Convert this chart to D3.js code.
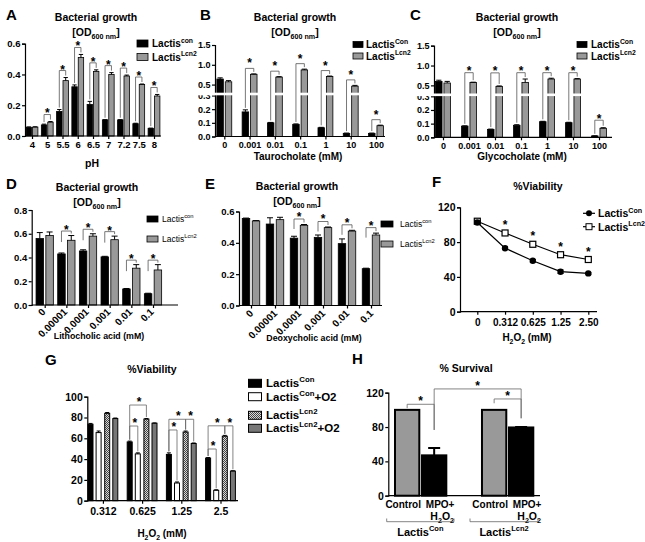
<!DOCTYPE html>
<html><head><meta charset="utf-8">
<script src="https://cdn.jsdelivr.net/npm/d3@7"></script>
<style>
body{margin:0;background:#fff}
svg text{font-family:'Liberation Sans',Arial,Helvetica,sans-serif}
</style>
</head><body>
<svg id="c" width="645" height="542"></svg>
<script>
// ================= DATA =================
const phCats = ["4","5","5.5","6","6.5","7","7.2","7.5","8"];
const phCon    = [0.057,0.072,0.16,0.32,0.205,0.105,0.105,0.08,0.05];
const phConErr = [0.002,0.005,0.012,0.012,0.02,0.001,0.001,0.003,0.001];
const phLcn    = [0.058,0.09,0.36,0.51,0.42,0.40,0.39,0.335,0.26];
const phLcnErr = [0.002,0.004,0.02,0.02,0.01,0.012,0.006,0.003,0.01];
const phSig    = [0,1,1,1,1,1,1,1,1];

const bileCats = ["0","0.001","0.01","0.1","1","10","100"];
const tauCon    = [0.64,0.18,0.10,0.089,0.064,0.023,0.023];
const tauConErr = [0.03,0.015,0.003,0.003,0.003,0.002,0.002];
const tauLcn    = [0.57,0.76,0.69,0.87,0.705,0.46,0.079];
const tauLcnErr = [0.03,0.01,0.01,0.02,0.01,0.02,0.004];
const tauSig    = [0,1,1,1,1,1,1];

const glyCon    = [0.60,0.082,0.058,0.088,0.114,0.107,0.01];
const glyConErr = [0.03,0.002,0.002,0.004,0.003,0.003,0.001];
const glyLcn    = [0.56,0.575,0.475,0.575,0.66,0.66,0.066];
const glyLcnErr = [0.04,0.005,0.01,0.085,0.02,0.01,0.004];
const glySig    = [0,1,1,1,1,1,1];
const glyBracketLevel = [null,0.82,0.815,0.82,0.82,0.82,0.125];

const acidCats = ["0","0.00001","0.0001","0.001","0.01","0.1"];
const lithoCon    = [0.56,0.43,0.455,0.405,0.135,0.095];
const lithoConErr = [0.05,0.008,0.01,0.005,0.004,0.004];
const lithoLcn    = [0.585,0.545,0.58,0.55,0.31,0.295];
const lithoLcnErr = [0.03,0.04,0.02,0.03,0.03,0.045];
const lithoSig    = [0,1,1,1,1,1];

const deoxyCon    = [0.555,0.52,0.43,0.435,0.395,0.235];
const deoxyConErr = [0.003,0.04,0.012,0.015,0.03,0.003];
const deoxyLcn    = [0.54,0.548,0.512,0.497,0.475,0.45];
const deoxyLcnErr = [0.002,0.015,0.005,0.004,0.005,0.012];
const deoxySig    = [0,0,1,1,1,1];

const fCats   = ["0","0.312","0.625","1.25","2.50"];
const fCon    = [102.5,73,58.5,46,44];
const fConErr = [1.5,1.5,1.5,2,1];
const fLcn    = [104,90.5,77.5,65.5,60];
const fLcnErr = [1,1,1,1,1];
const fSig    = [0,1,1,1,1];

const gCats     = ["0.312","0.625","1.25","2.5"];
const gCon      = [73.5,56.5,44.5,41];
const gConErr   = [0.8,0.8,1.5,0.5];
const gConO2    = [65.5,45,17,10];
const gConO2Err = [1.5,1,1,0.5];
const gLcn      = [84,78.5,66,62];
const gLcnErr   = [0.8,0.5,1,0.8];
const gLcnO2    = [79,74.5,55,28.5];
const gLcnO2Err = [0.5,0.3,0.5,0.3];
// [group, seriesA, seriesB, bracket level (%)]
const gBrackets = [[1,0,1,71.8],[1,0,2,92],[2,0,1,68],[2,0,2,78.3],[2,2,3,78.3],[3,0,1,49.7],[3,0,2,72],[3,2,3,72]];

const hGroups = ["Con","Lcn2"];
const hConds  = ["Control","MPO+H2O2"];
const hCon    = [100,47];
const hConErr = [0,8.5];
const hLcn    = [100,79.5];
const hLcnErr = [0,0.5];
// [barA, barB, level, legA end, legB end] (%)
const hBrackets = [[0,1,106.5,102,76.6],[1,3,124.4,76.6,90.2],[2,3,112.7,107.7,90.2]];

// ================= HELPERS =================
const svg = d3.select("#c");
const defs = svg.append("defs");
const pat = defs.append("pattern").attr("id","hatch").attr("patternUnits","userSpaceOnUse").attr("width",2).attr("height",2);
pat.append("rect").attr("width",2).attr("height",2).attr("fill","#d8d8d8");
pat.append("rect").attr("width",1).attr("height",1).attr("fill","#444");
pat.append("rect").attr("x",1).attr("y",1).attr("width",1).attr("height",1).attr("fill","#444");

function rich(g, x, y, segs, size, o = {}) {
  const t = g.append("text").attr("x", x).attr("y", y).attr("font-size", size)
    .attr("font-weight", o.weight || "bold").attr("text-anchor", o.anchor || "start").attr("fill", "#000");
  if (o.transform) t.attr("transform", o.transform);
  let shift = 0;
  segs.forEach(s => {
    if (typeof s === "string") s = {t: s};
    const target = s.sup ? -0.42 * size : s.sub ? 0.3 * size : 0;
    const sp = t.append("tspan").text(s.t).attr("dy", target - shift);
    if (s.sup || s.sub) sp.attr("font-size", size * 0.68);
    shift = target;
  });
  return t;
}
function styleAxis(sel, size) {
  sel.attr("font-family", null).attr("font-size", null);
  sel.selectAll("text").attr("font-size", size).attr("font-weight", "bold").attr("fill", "#000");
  sel.selectAll("path,line").attr("stroke", "#000").attr("stroke-width", 1.2);
}
function star(g, x, yc, size = 12) {
  g.append("text").attr("x", x).attr("y", yc + 0.58 * size).attr("text-anchor", "middle")
    .attr("font-size", size).attr("font-weight", "bold").text("*");
}
const sup = t => ({t, sup: true});
const sub = t => ({t, sub: true});
const OD = ["[OD", sub("600 nm"), "]"];
const H2O2 = ["H", sub("2"), "O", sub("2"), " (mM)"];

function barPanel(o) {
  const g = svg.append("g");
  const x = d3.scalePoint(o.cats, o.centers);
  const y = o.y;
  const ser = [
    {v: o.con, e: o.conErr, fill: "#000", off: -o.off},
    {v: o.lcn, e: o.lcnErr, fill: "#999", off: o.off}
  ];
  ser.forEach(s => {
    g.selectAll(null).data(o.cats).join("rect")
      .attr("x", d => x(d) + s.off - o.bw / 2).attr("width", o.bw)
      .attr("y", (d, i) => y(s.v[i])).attr("height", (d, i) => y(0) - y(s.v[i]))
      .attr("fill", s.fill).attr("stroke", "#000").attr("stroke-width", 0.8);
    g.selectAll(null).data(o.cats).join("path")
      .attr("d", (d, i) => {
        const cx = x(d) + s.off, t = y(s.v[i] + s.e[i]);
        return `M${cx},${y(s.v[i])}V${t}M${cx - o.bw * 0.4},${t}H${cx + o.bw * 0.4}`;
      })
      .attr("stroke", "#000").attr("stroke-width", 1).attr("fill", "none");
  });
  // axes
  const ya = g.append("g").attr("transform", `translate(${o.x0},0)`)
    .call(d3.axisLeft(y).tickValues(o.yTicks).tickFormat(d3.format(".1f")).tickSize(3).tickPadding(1.5));
  styleAxis(ya, o.tickFs);
  g.append("line").attr("x1", o.x0).attr("x2", o.x1).attr("y1", y(0)).attr("y2", y(0))
    .attr("stroke", "#000").attr("stroke-width", 1.2);
  const xa = g.append("g").attr("transform", `translate(0,${y(0)})`)
    .call(d3.axisBottom(x).tickSize(3).tickPadding(2).tickFormat(o.rotate ? () => "" : d => d));
  xa.select(".domain").remove();
  styleAxis(xa, o.tickFs);
  if (o.rotate) {
    o.cats.forEach(c => {
      g.append("text").attr("text-anchor", "end").attr("font-size", o.rotFs).attr("font-weight", "bold")
        .attr("transform", `translate(${x(c) + o.rotDx},${y(0) + o.rotDy}) rotate(-45)`).text(c);
    });
  }
  if (o.brk) {
    g.append("rect").attr("x", o.x0 - 22).attr("y", o.brk[0]).attr("width", o.x1 - o.x0 + 22)
      .attr("height", o.brk[1] - o.brk[0]).attr("fill", "#fff");
  }
  // brackets
  o.sig.forEach((s, i) => {
    if (!s) return;
    const cx = x(o.cats[i]), lx = cx - o.off, rx = cx + o.off;
    const topC = y(o.con[i] + o.conErr[i]), topL = y(o.lcn[i] + o.lcnErr[i]);
    const yb = o.level ? y(o.level[i]) : Math.min(topC, topL) - o.gap;
    const lb = o.longLeg ? topC - 2 : yb + o.leg;
    const rb = topL - 2;
    g.append("path").attr("d", `M${lx},${lb}V${yb}H${rx}V${rb}`)
      .attr("fill", "none").attr("stroke", "#555").attr("stroke-width", 0.8);
    star(g, (lx + rx) / 2, yb - o.starUp, 12);
  });
  // titles & labels
  rich(g, o.titleX, o.titleY, ["Bacterial growth"], 10.5, {anchor: "middle"});
  rich(g, o.titleX, o.titleY + 15, OD, 10.5, {anchor: "middle"});
  rich(g, o.xlabX, o.xlabY, [o.xlab], o.xlabFs, {anchor: "middle"});
  rich(g, o.letter[1], o.letter[2], [o.letter[0]], 15);
  // legend
  const L = o.legend;
  [["#000", L.names[0]], ["#999", L.names[1]]].forEach((it, k) => {
    g.append("rect").attr("x", L.x).attr("y", L.y + k * L.dy).attr("width", L.w).attr("height", L.h)
      .attr("fill", it[0]).attr("stroke", "#000").attr("stroke-width", 0.8);
    rich(g, L.tx, L.y + k * L.dy + L.h / 2 + L.fs * 0.36, ["Lactis", sup(it[1])], L.fs, {weight: L.weight});
  });
  return g;
}

// ================= PANEL A =================
barPanel({
  cats: phCats, centers: [32, 154], y: d3.scaleLinear([0, 0.6], [136, 43.7]),
  con: phCon, conErr: phConErr, lcn: phLcn, lcnErr: phLcnErr, sig: phSig,
  off: 3.2, bw: 5.4, x0: 25, x1: 161, yTicks: [0, 0.2, 0.4, 0.6], tickFs: 9.5,
  gap: 7, longLeg: true, starUp: 4,
  titleX: 96, titleY: 21, xlab: "pH", xlabX: 92, xlabY: 167, xlabFs: 10.5,
  letter: ["A", 6, 20],
  legend: {x: 137, y: 40, dy: 13.5, w: 11, h: 7, tx: 152, fs: 10, names: ["con", "Lcn2"]}
});

// ================= PANEL B =================
barPanel({
  cats: bileCats, centers: [224.3, 376],
  y: d3.scaleLinear().domain([0, 0.3, 0.3000001, 1.5]).range([136.5, 95.5, 92.5, 45]),
  con: tauCon, conErr: tauConErr, lcn: tauLcn, lcnErr: tauLcnErr, sig: tauSig,
  off: 4.2, bw: 6.5, x0: 215, x1: 385, yTicks: [0, 0.1, 0.2, 0.3, 0.5, 1.0, 1.5], tickFs: 9,
  gap: 5.5, longLeg: true, starUp: 8, brk: [92.7, 95.3],
  titleX: 295, titleY: 21, xlab: "Taurocholate (mM)", xlabX: 298, xlabY: 160, xlabFs: 10,
  letter: ["B", 200, 20],
  legend: {x: 353, y: 41.5, dy: 11.5, w: 10, h: 6, tx: 366, fs: 10, names: ["Con", "Lcn2"]}
});

// ================= PANEL C =================
barPanel({
  cats: bileCats, centers: [443, 599],
  y: d3.scaleLinear().domain([0, 0.3, 0.3000001, 1.5]).range([137.3, 96.3, 93.3, 45.7]),
  con: glyCon, conErr: glyConErr, lcn: glyLcn, lcnErr: glyLcnErr, sig: glySig, level: glyBracketLevel,
  off: 4.2, bw: 6.5, x0: 434, x1: 612, yTicks: [0, 0.1, 0.2, 0.3, 0.5, 1.0, 1.5], tickFs: 9,
  longLeg: true, starUp: 4.5, brk: [93.5, 96.1],
  titleX: 517, titleY: 21, xlab: "Glycocholate (mM)", xlabX: 522, xlabY: 160, xlabFs: 10,
  letter: ["C", 410, 20],
  legend: {x: 577, y: 41.5, dy: 11.5, w: 10, h: 6, tx: 591, fs: 10, names: ["Con", "Lcn2"]}
});

// ================= PANEL D =================
barPanel({
  cats: acidCats, centers: [44.7, 153], y: d3.scaleLinear([0, 0.8], [305, 210]),
  con: lithoCon, conErr: lithoConErr, lcn: lithoLcn, lcnErr: lithoLcnErr, sig: lithoSig,
  off: 4.9, bw: 7.5, x0: 31.7, x1: 178, yTicks: [0, 0.2, 0.4, 0.6, 0.8], tickFs: 9.5,
  gap: 4.5, longLeg: false, leg: 11, starUp: 4, rotate: true, rotFs: 10, rotDx: 1.5, rotDy: 7.5,
  titleX: 97, titleY: 191, xlab: "Lithocholic acid (mM)", xlabX: 99, xlabY: 338.5, xlabFs: 8.8,
  letter: ["D", 6, 189],
  legend: {x: 147, y: 216, dy: 20, w: 11, h: 6, tx: 162, fs: 8.5, weight: "normal", names: ["con", "Lcn2"]}
});

// ================= PANEL E =================
barPanel({
  cats: acidCats, centers: [251, 371], y: d3.scaleLinear([0, 0.6], [305.5, 211.5]),
  con: deoxyCon, conErr: deoxyConErr, lcn: deoxyLcn, lcnErr: deoxyLcnErr, sig: deoxySig,
  off: 5, bw: 7.5, x0: 239, x1: 382, yTicks: [0, 0.2, 0.4, 0.6], tickFs: 9.5,
  gap: 5.5, longLeg: false, leg: 10, starUp: 5, rotate: true, rotFs: 10, rotDx: 3, rotDy: 8.5,
  titleX: 297, titleY: 190, xlab: "Deoxycholic acid (mM)", xlabX: 314, xlabY: 341, xlabFs: 8.8,
  letter: ["E", 205, 189],
  legend: {x: 381, y: 221, dy: 20, w: 12, h: 6, tx: 400, fs: 8.5, weight: "normal", names: ["con", "Lcn2"]}
});

// ================= PANEL F =================
(function () {
  const g = svg.append("g");
  const x = d3.scalePoint(fCats, [477.3, 588.3]);
  const y = d3.scaleLinear([0, 120], [311.7, 207.3]);
  const ya = g.append("g").attr("transform", "translate(460,0)")
    .call(d3.axisLeft(y).tickValues([0, 40, 80, 120]).tickSize(3).tickPadding(1.5));
  styleAxis(ya, 10.5);
  g.append("line").attr("x1", 460).attr("x2", 597).attr("y1", y(0)).attr("y2", y(0)).attr("stroke", "#000").attr("stroke-width", 1.2);
  const xa = g.append("g").attr("transform", `translate(0,${y(0)})`).call(d3.axisBottom(x).tickSize(3).tickPadding(4));
  xa.select(".domain").remove();
  styleAxis(xa, 10);
  const line = d3.line().x((d, i) => x(fCats[i])).y(d => y(d));
  [[fLcn, fLcnErr, "sq"], [fCon, fConErr, "ci"]].forEach(([v, e, m]) => {
    g.append("path").attr("d", line(v)).attr("fill", "none").attr("stroke", "#000").attr("stroke-width", 1.2);
    v.forEach((d, i) => {
      const cx = x(fCats[i]);
      g.append("path").attr("d", `M${cx},${y(d - e[i])}V${y(d + e[i])}M${cx - 3},${y(d + e[i])}H${cx + 3}M${cx - 3},${y(d - e[i])}H${cx + 3}`)
        .attr("stroke", "#000").attr("stroke-width", 1);
      if (m === "ci") g.append("circle").attr("cx", cx).attr("cy", y(d)).attr("r", 3.2).attr("fill", "#000");
      else g.append("rect").attr("x", cx - 3).attr("y", y(d) - 3).attr("width", 6).attr("height", 6)
        .attr("fill", "#fff").attr("stroke", "#000").attr("stroke-width", 1.2);
    });
  });
  fSig.forEach((s, i) => { if (s) star(g, x(fCats[i]), y(fLcn[i] + fLcnErr[i]) - 10, 12); });
  rich(g, 538, 190, ["%Viability"], 10.5, {anchor: "middle"});
  rich(g, 527, 341, H2O2, 10, {anchor: "middle"});
  rich(g, 432, 187, ["F"], 15);
  // legend
  [[213.3, "ci", "Con"], [226.7, "sq", "Lcn2"]].forEach(([ly, m, n]) => {
    g.append("line").attr("x1", 583).attr("x2", 595).attr("y1", ly).attr("y2", ly).attr("stroke", "#000").attr("stroke-width", 1.2);
    if (m === "ci") g.append("circle").attr("cx", 589).attr("cy", ly).attr("r", 3).attr("fill", "#000");
    else g.append("rect").attr("x", 586).attr("y", ly - 3).attr("width", 6).attr("height", 6).attr("fill", "#fff").attr("stroke", "#000");
    rich(g, 598, ly + 3.8, ["Lactis", sup(n)], 10.5);
  });
})();

// ================= PANEL G =================
(function () {
  const g = svg.append("g");
  const x = d3.scalePoint(gCats, [102.9, 220.5]);
  const y = d3.scaleLinear([0, 100], [500.7, 396.7]);
  const ser = [
    {v: gCon, e: gConErr, fill: "#000"},
    {v: gConO2, e: gConO2Err, fill: "#fff"},
    {v: gLcn, e: gLcnErr, fill: "url(#hatch)"},
    {v: gLcnO2, e: gLcnO2Err, fill: "#777"}];
  const offs = [-12.4, -4.3, 4.3, 12.4], bw = 5;
  ser.forEach((s, k) => {
    gCats.forEach((c, i) => {
      const cx = x(c) + offs[k];
      g.append("rect").attr("x", cx - bw / 2).attr("width", bw).attr("y", y(s.v[i])).attr("height", y(0) - y(s.v[i]))
        .attr("fill", s.fill).attr("stroke", "#000").attr("stroke-width", 1);
      const t = y(s.v[i] + s.e[i]);
      g.append("path").attr("d", `M${cx},${y(s.v[i])}V${t}M${cx - 2},${t}H${cx + 2}`).attr("stroke", "#000").attr("stroke-width", 1);
    });
  });
  const ya = g.append("g").attr("transform", "translate(87.3,0)")
    .call(d3.axisLeft(y).tickValues([0, 20, 40, 60, 80, 100]).tickSize(3).tickPadding(1.5));
  styleAxis(ya, 10.5);
  g.append("line").attr("x1", 87.3).attr("x2", 238).attr("y1", y(0)).attr("y2", y(0)).attr("stroke", "#000").attr("stroke-width", 1.2);
  const xa = g.append("g").attr("transform", `translate(0,${y(0)})`).call(d3.axisBottom(x).tickSize(3).tickPadding(4));
  xa.select(".domain").remove();
  styleAxis(xa, 10.5);
  gBrackets.forEach(([gi, a, b, lvl]) => {
    const c = gCats[gi];
    const ax = x(c) + offs[a], bx = x(c) + offs[b];
    const ay = y(ser[a].v[gi] + ser[a].e[gi]) - 1.5, by = y(ser[b].v[gi] + ser[b].e[gi]) - 1.5;
    const yb = y(lvl);
    g.append("path").attr("d", `M${ax},${ay}V${yb}H${bx}V${by}`).attr("fill", "none").attr("stroke", "#666").attr("stroke-width", 0.8);
    star(g, (ax + bx) / 2 + 1, yb - 6, 12);
  });
  rich(g, 152, 373, ["%Viability"], 10.5, {anchor: "middle"});
  rich(g, 162, 537, H2O2, 10, {anchor: "middle"});
  rich(g, 45, 365, ["G"], 15);
  const leg = [[383.3, "#000", ["Lactis", sup("Con")]], [396.7, "#fff", ["Lactis", sup("Con"), "+O2"]],
               [415.3, "url(#hatch)", ["Lactis", sup("Lcn2")]], [428.3, "#777", ["Lactis", sup("Lcn2"), "+O2"]]];
  leg.forEach(([ly, f, t]) => {
    g.append("rect").attr("x", 248.5).attr("y", ly - 4).attr("width", 13).attr("height", 8).attr("fill", f).attr("stroke", "#000").attr("stroke-width", 1);
    rich(g, 266, ly + 4, t, 11.5);
  });
})();

// ================= PANEL H =================
(function () {
  const g = svg.append("g");
  const y = d3.scaleLinear([0, 120], [495.7, 392.7]);
  const outer = d3.scaleBand(hGroups, [395, 533.3]).paddingInner(0.41);
  const inner = d3.scaleBand(hConds, [0, outer.bandwidth()]).paddingInner(0.1);
  const vals = [hCon, hLcn], errs = [hConErr, hLcnErr];
  const bars = [];
  hGroups.forEach((gr, gi) => hConds.forEach((cd, ci) => {
    const x0 = outer(gr) + inner(cd);
    bars.push({x0, cx: x0 + inner.bandwidth() / 2, v: vals[gi][ci], e: errs[gi][ci], ci});
  }));
  bars.forEach(b => {
    g.append("rect").attr("x", b.x0).attr("width", inner.bandwidth()).attr("y", y(b.v)).attr("height", y(0) - y(b.v))
      .attr("fill", b.ci === 0 ? "#999" : "#000").attr("stroke", "#000").attr("stroke-width", 2);
    if (b.e > 0) {
      const t = y(b.v + b.e);
      g.append("path").attr("d", `M${b.cx},${y(b.v)}V${t}M${b.cx - 6},${t}H${b.cx + 6}`).attr("stroke", "#000").attr("stroke-width", 2);
    }
  });
  const ya = g.append("g").attr("transform", "translate(388.3,0)")
    .call(d3.axisLeft(y).tickValues([0, 40, 80, 120]).tickSize(3).tickPadding(1.5));
  styleAxis(ya, 10.5);
  g.append("line").attr("x1", 388.3).attr("x2", 540).attr("y1", y(0)).attr("y2", y(0)).attr("stroke", "#000").attr("stroke-width", 1.2);
  hBrackets.forEach(([a, b, lvl, ea, eb]) => {
    const ax = bars[a].cx, bx = bars[b].cx, yb = y(lvl);
    g.append("path").attr("d", `M${ax},${y(ea)}V${yb}H${bx}V${y(eb)}`).attr("fill", "none").attr("stroke", "#666").attr("stroke-width", 0.8);
    star(g, (ax + bx) / 2, yb - 6, 12);
  });
  bars.forEach(b => {
    if (b.ci === 0) rich(g, b.cx - 4, 508, ["Control"], 10, {anchor: "middle"});
    else {
      rich(g, b.cx + 6, 508, ["MPO+"], 10, {anchor: "middle"});
      rich(g, b.cx + 8, 520, ["H", sub("2"), "O", sub("2")], 10.5, {anchor: "middle"});
    }
  });
  [[386.7, 454, "Con"], [470, 538, "Lcn2"]].forEach(([a, b, n]) => {
    g.append("path").attr("d", `M${a},518.5V521.7H${b}V518.5`).attr("fill", "none").attr("stroke", "#666").attr("stroke-width", 0.8);
    rich(g, (a + b) / 2, 535.5, ["Lactis", sup(n)], 11, {anchor: "middle"});
  });
  rich(g, 466, 372, ["% Survival"], 10.5, {anchor: "middle"});
  rich(g, 352, 364, ["H"], 15);
})();
</script>
</body></html>
